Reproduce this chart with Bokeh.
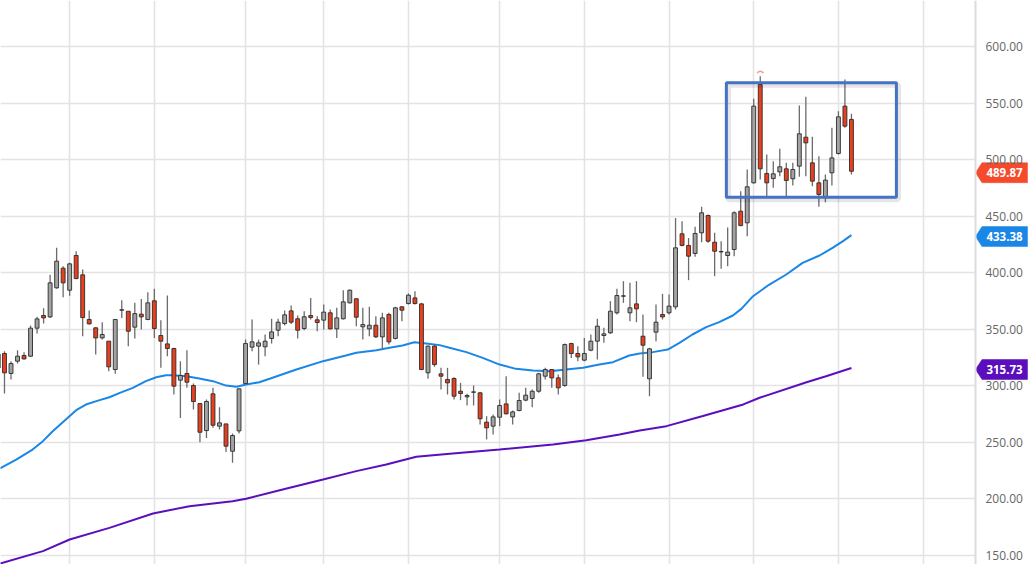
import math
from bokeh.plotting import figure
from bokeh.models import Range1d, FixedTicker, NumeralTickFormatter, LinearAxis, ColumnDataSource
from bokeh.core.properties import value
from bokeh.embed import file_html
from bokeh.resources import INLINE

# ---------------- data ----------------
opens = [316.0, 328.6, 310.9, 321.8, 326.8, 326.2, 351.0, 362.2, 361.0, 386.7,
         404.1, 384.6, 415.3, 398.2, 358.7, 351.3, 342.4, 339.5, 314.4, 366.9,
         366.0, 351.9, 363.4, 358.7, 375.2, 344.5, 337.1, 333.0, 305.0, 310.9,
         300.2, 284.3, 260.4, 292.9, 264.3, 266.3, 242.1, 260.1, 302.0, 334.2,
         335.1, 334.5, 341.9, 349.2, 355.1, 366.3, 359.3, 350.7, 362.2, 358.4,
         358.1, 364.6, 350.4, 359.3, 373.4, 377.0, 352.2, 350.4, 353.6, 343.3,
         363.1, 341.9, 369.9, 372.8, 377.8, 372.5, 311.5, 335.1, 310.6, 305.6,
         306.5, 295.2, 290.2, 294.3, 293.8, 267.8, 264.3, 272.2, 284.0, 272.5,
         278.1, 287.3, 288.8, 295.2, 308.5, 314.4, 307.0, 300.3, 337.4, 328.6,
         322.7, 331.5, 339.5, 344.5, 346.9, 364.6, 379.3, 364.6, 372.5, 343.9,
         306.2, 347.5, 363.1, 364.6, 369.9, 434.5, 424.2, 417.1, 435.4, 450.7,
         427.1, 418.8, 415.3, 420.6, 454.5, 444.2, 479.6, 566.6, 487.9, 483.4,
         489.3, 492.0, 483.2, 494.4, 520.0, 497.3, 479.6, 466.5, 488.5, 505.6,
         547.5, 535.7]
highs = [330.0, 330.6, 321.8, 331.5, 329.7, 353.3, 361.0, 368.7, 398.2, 422.1,
         405.9, 408.8, 419.1, 402.9, 366.6, 351.9, 356.3, 339.5, 358.7, 375.8,
         366.0, 373.4, 376.9, 382.8, 385.8, 358.1, 379.9, 333.6, 321.8, 331.5,
         302.0, 284.3, 287.9, 298.2, 281.1, 266.3, 257.8, 297.9, 340.9, 358.7,
         340.9, 345.4, 359.3, 359.3, 366.6, 371.0, 362.2, 366.0, 377.8, 361.6,
         371.9, 367.5, 369.0, 384.6, 385.2, 377.8, 369.0, 369.9, 361.6, 364.6,
         364.6, 369.9, 370.5, 381.7, 383.7, 373.4, 335.7, 336.5, 315.9, 315.9,
         307.6, 302.6, 292.9, 300.3, 294.3, 273.1, 274.6, 287.9, 308.5, 278.1,
         293.8, 298.2, 296.7, 311.5, 315.9, 314.4, 310.0, 337.4, 338.0, 335.1,
         342.4, 345.4, 359.3, 351.3, 374.9, 385.8, 392.6, 391.1, 392.6, 363.1,
         333.6, 371.9, 381.4, 380.8, 448.6, 445.7, 430.9, 440.7, 458.4, 451.6,
         435.4, 428.0, 440.0, 454.5, 472.2, 491.4, 554.0, 574.0, 504.7, 498.8,
         509.7, 497.3, 497.3, 548.0, 555.7, 520.3, 503.2, 487.0, 528.3, 543.0,
         571.1, 540.7]
lows = [312.0, 293.2, 305.6, 319.7, 323.3, 325.6, 346.3, 355.1, 360.1, 385.8,
        378.4, 379.6, 394.3, 343.9, 354.2, 327.7, 340.9, 312.9, 310.6, 360.1,
        335.1, 341.8, 349.8, 358.1, 342.4, 315.9, 326.2, 292.3, 271.6, 298.2,
        279.0, 250.1, 253.9, 262.8, 261.3, 241.5, 231.8, 257.8, 302.0, 330.6,
        318.8, 326.2, 337.4, 343.9, 353.4, 354.8, 341.9, 349.2, 358.7, 348.3,
        349.8, 349.8, 342.4, 358.7, 372.8, 352.8, 341.0, 343.9, 342.4, 332.7,
        336.5, 341.0, 357.2, 371.9, 371.9, 313.8, 306.2, 316.8, 296.7, 292.3,
        287.9, 287.3, 282.6, 282.6, 265.7, 252.5, 256.9, 264.3, 274.6, 265.7,
        277.5, 286.4, 281.1, 293.8, 305.6, 298.2, 292.3, 299.1, 324.7, 321.8,
        321.8, 330.6, 323.3, 338.0, 346.0, 363.1, 373.4, 357.2, 356.3, 307.9,
        290.8, 339.5, 358.7, 363.1, 367.5, 423.6, 393.5, 414.1, 427.1, 426.5,
        397.0, 403.5, 405.9, 414.7, 441.2, 432.4, 479.0, 482.6, 467.8, 475.2,
        485.5, 467.8, 477.2, 484.9, 485.5, 476.7, 458.4, 462.5, 477.2, 504.7,
        528.3, 487.0]
closes = [328.0, 311.5, 319.7, 326.2, 323.8, 351.0, 359.2, 360.1, 391.1, 410.3,
          391.1, 407.9, 394.9, 360.4, 354.8, 342.4, 345.4, 316.8, 358.7, 367.3,
          348.3, 363.9, 361.0, 373.4, 350.7, 339.5, 333.0, 299.7, 309.1, 303.2,
          286.1, 258.9, 286.1, 265.1, 267.2, 246.6, 256.0, 297.3, 337.4, 338.9,
          338.0, 339.5, 347.7, 356.3, 362.8, 356.3, 349.2, 361.1, 360.4, 356.0,
          365.2, 350.4, 360.1, 374.3, 384.6, 360.7, 354.2, 353.6, 343.3, 360.1,
          338.9, 369.0, 366.9, 380.2, 372.8, 314.4, 335.1, 318.8, 308.5, 302.6,
          290.8, 293.2, 291.4, 294.6, 270.8, 262.8, 272.5, 282.6, 275.2, 276.9,
          287.0, 291.7, 295.2, 310.6, 314.4, 307.0, 298.2, 336.5, 328.6, 325.6,
          328.6, 339.5, 352.8, 346.0, 366.0, 379.9, 379.6, 369.0, 368.1, 335.9,
          332.7, 356.3, 361.0, 370.5, 422.1, 424.2, 414.7, 434.8, 453.1, 428.0,
          419.1, 418.5, 418.3, 453.1, 441.8, 476.1, 547.5, 492.0, 479.6, 487.6,
          493.8, 481.7, 491.4, 523.0, 515.0, 481.1, 469.3, 482.0, 501.7, 538.0,
          529.8, 489.87]

# moving averages: points (candle position, value)
ma_fast_x = [1.2, 3.8, 6.3, 7.9, 9.4, 11.5, 13.0, 14.5, 16.6, 18.1, 19.7, 21.7,
             23.7, 25.3, 26.8, 27.8, 29.9, 31.9, 34.0, 36.0, 37.6, 39.1, 41.1,
             42.7, 46.8, 50.9, 54.4, 56.0, 59.1, 61.1, 63.1, 64.9, 66.7, 68.8,
             70.3, 72.9, 75.4, 78.0, 80.5, 83.1, 85.7, 88.2, 90.8, 93.3, 95.4,
             97.9, 99.5, 101.5, 103.8, 105.6, 107.6, 109.7, 111.7, 113.8, 115.1,
             116.9, 119.4, 122.0, 124.5, 127.1, 129.1, 130.7, 132.0]
ma_fast = [226.5, 234.7, 243.6, 251.0, 259.8, 270.7, 278.4, 283.4, 287.3, 289.9,
           293.7, 298.2, 304.1, 307.6, 309.4, 309.4, 308.5, 306.4, 304.1, 300.2,
           299.1, 301.1, 303.2, 306.2, 314.4, 321.8, 326.8, 329.2, 331.5, 333.6,
           335.7, 338.6, 337.4, 336.0, 333.6, 329.8, 324.7, 318.8, 315.0, 313.5,
           312.9, 314.4, 315.9, 318.8, 320.9, 326.8, 328.6, 329.8, 332.1, 338.0,
           345.4, 351.9, 356.3, 362.2, 368.1, 379.3, 389.6, 398.5, 408.8, 415.3,
           422.1, 428.0, 433.38]
ma_slow_x = [1.2, 7.9, 12.0, 18.1, 24.8, 30.4, 37.0, 39.1, 44.7, 50.9, 56.0, 60.6,
             65.2, 70.8, 78.0, 86.2, 91.3, 96.4, 99.5, 103.6, 109.2, 115.4, 117.9,
             125.1, 128.1, 132.0]
ma_slow = [142.5, 153.7, 164.0, 174.3, 187.0, 193.5, 197.9, 200.0, 208.3, 217.1,
           224.5, 230.4, 237.2, 240.1, 243.7, 248.1, 251.9, 256.9, 260.5, 264.3,
           273.2, 283.5, 289.4, 303.2, 308.5, 315.73]

y_ticks = [150, 200, 250, 300, 350, 400, 450, 500, 550, 600]
month_ticks = [12, 25, 39, 51, 64, 78, 91, 104, 117, 130, 143]
# drawn rectangle: [first candle pos, last pos, low, high]
box_span = [112.8, 138.9, 466.9, 568.1]

# ---------------- styles / geometry ----------------
UP_FILL = "#a3a3a3"
DOWN_FILL = "#e8401e"
OUTLINE = "#2b2b2b"
WICK = "#6b6b6b"
BLUE = "#1a86e6"
PURPLE = "#5b0fbc"
TAG_RED = "#f44b2d"
GRID = "#e3e3e3"

PX_PER_BAR = 6.515
PX_PER_UNIT = 1.13
FW, FH = 1030, 564
x_start = 2 + (1 - 5) / PX_PER_BAR
x_end = x_start + FW / PX_PER_BAR
x_axis = 2 + (976 - 5) / PX_PER_BAR
y_end = 400 + (273.3 - 1) / PX_PER_UNIT
y_start = y_end - FH / PX_PER_UNIT

idx = list(range(1, len(closes) + 1))
top = [max(o, c) for o, c in zip(opens, closes)]
bot = [min(o, c) for o, c in zip(opens, closes)]
fill = [UP_FILL if c >= o else DOWN_FILL for o, c in zip(opens, closes)]
src = ColumnDataSource(dict(x=idx, o=opens, h=highs, l=lows, c=closes, top=top, bot=bot, fill=fill))

p = figure(frame_width=FW, frame_height=FH, output_backend="svg", toolbar_location=None,
           x_range=Range1d(x_start, x_end), y_range=Range1d(y_start, y_end),
           x_axis_location=None, y_axis_location=None,
           min_border_left=0, min_border_top=0, min_border_bottom=0, min_border_right=0)
p.outline_line_color = None
p.background_fill_color = "white"
p.border_fill_color = "white"

p.xgrid.ticker = FixedTicker(ticks=month_ticks)
p.xgrid.grid_line_color = GRID
p.xgrid.grid_line_width = 1.6
p.ygrid.ticker = FixedTicker(ticks=y_ticks)
p.ygrid.grid_line_color = GRID
p.ygrid.grid_line_width = 1.6
p.ygrid.cross_bounds = (x_start, x_axis)

ax = LinearAxis(fixed_location=x_axis, ticker=FixedTicker(ticks=y_ticks),
                formatter=NumeralTickFormatter(format="0.00"))
ax.axis_line_color = "#dcdcdc"
ax.axis_line_width = 2
ax.major_tick_line_color = None
ax.minor_tick_line_color = None
ax.major_tick_out = 0
ax.major_tick_in = 0
ax.major_label_standoff = 10
ax.major_label_text_font = "Open Sans"
ax.major_label_text_font_size = "12px"
ax.major_label_text_color = "#666666"
p.add_layout(ax, "right")

# moving averages
p.line(ma_slow_x, ma_slow, line_color=PURPLE, line_width=2)
p.line(ma_fast_x, ma_fast, line_color=BLUE, line_width=2)

# candles
p.segment(x0="x", y0="h", x1="x", y1="l", source=src, line_color=WICK, line_width=1.3)
p.vbar(x="x", width=0.6, top="top", bottom="bot", source=src, fill_color="fill",
       line_color=OUTLINE, line_width=0.9)

# highest-high caret marker
imax = max(range(len(highs)), key=lambda i: highs[i])
p.arc(x=[idx[imax]], y=[highs[imax] + 1.6], radius=3.2, radius_units="screen",
      start_angle=0.35, end_angle=math.pi - 0.35, line_color="#f19a9a", line_width=1.5)

# rectangle drawn on the chart (with soft shadow)
bx0, bx1, by0, by1 = box_span
sx, sy = 1.6 / PX_PER_BAR, 2.0 / PX_PER_UNIT
p.quad(left=[bx0 + sx], right=[bx1 + sx], bottom=[by0 - sy], top=[by1 - sy],
       fill_color=None, line_color="#000000", line_alpha=0.10, line_width=6)
p.quad(left=[bx0], right=[bx1], bottom=[by0], top=[by1],
       fill_color=None, line_color="#4472c4", line_width=3)

# price tags on the value axis
u = 1 / PX_PER_BAR
hh = 10 / PX_PER_UNIT
tag_vals = [closes[-1], ma_fast[-1], ma_slow[-1]]
tag_cols = [TAG_RED, BLUE, PURPLE]
tag_y = [v - 1.3 for v in tag_vals]
xs = [[x_axis, x_axis + 6.5 * u, x_axis + 52 * u, x_axis + 52 * u, x_axis + 6.5 * u] for _ in tag_vals]
ys = [[y, y + hh, y + hh, y - hh, y - hh] for y in tag_y]
p.patches(xs, ys, fill_color=tag_cols, line_color=tag_cols, line_width=0.5)
p.text(x=[x_axis + 29 * u] * 3, y=tag_y, text=[f"{v:.2f}" for v in tag_vals],
       text_align="center", text_baseline="middle", text_color="white",
       text_font=value("Open Sans"), text_font_style="bold", text_font_size="11.5px")

open("out.html", "w").write(file_html(p, INLINE))
